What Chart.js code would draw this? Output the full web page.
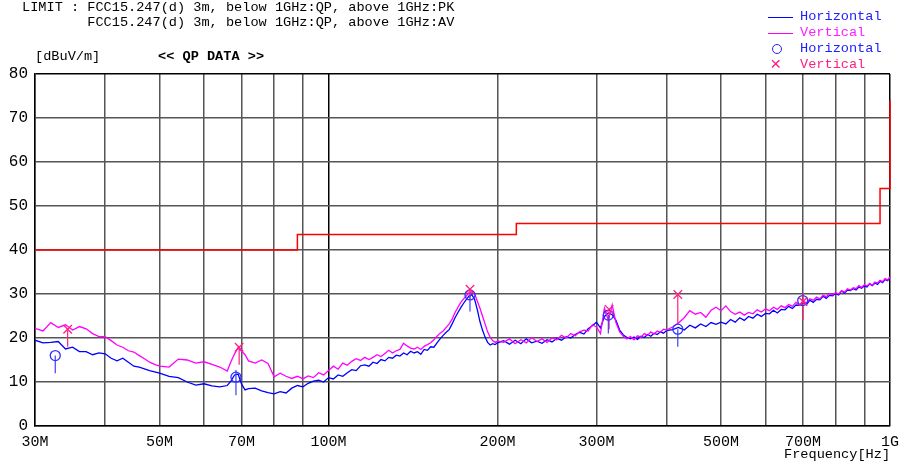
<!DOCTYPE html>
<html>
<head>
<meta charset="utf-8">
<script src="https://cdn.jsdelivr.net/npm/chart.js@4.4.1/dist/chart.umd.min.js"></script>
<style>
body { margin: 0; background: #fff; }
#wrap { position: relative; width: 900px; height: 463px; overflow: hidden; font-family: "Liberation Mono", monospace; }
#emiChart { position: absolute; left: 0; top: 0; }
.t { position: absolute; white-space: pre; font-size: 13.6px; line-height: 16px; color: #000; }
.sw { position: absolute; left: 768px; width: 25px; height: 0; }
.circ { position: absolute; left: 772px; top: 44px; width: 8px; height: 8px; border: 1.3px solid #2020ff; border-radius: 50%; }
</style>
</head>
<body>
<div id="wrap">
  <canvas id="emiChart" width="900" height="463"></canvas>
  <div class="t" style="left:22px;top:0px">LIMIT : FCC15.247(d) 3m, below 1GHz:QP, above 1GHz:PK</div>
  <div class="t" style="left:22px;top:15px">        FCC15.247(d) 3m, below 1GHz:QP, above 1GHz:AV</div>
  <div class="t" style="left:35px;top:49px">[dBuV/m]</div>
  <div class="t" style="left:158px;top:49px;font-weight:bold">&lt;&lt; QP DATA &gt;&gt;</div>
  <div class="t" style="left:784px;top:447px">Frequency[Hz]</div>

  <div class="sw" style="top:17px;border-top:1px solid #0000ff"></div>
  <div class="t" style="left:800px;top:9px;color:#2020ff">Horizontal</div>
  <div class="sw" style="top:33px;border-top:1px solid #ff00ff"></div>
  <div class="t" style="left:800px;top:25px;color:#ff20ff">Vertical</div>
  <div class="circ"></div>
  <div class="t" style="left:800px;top:41px;color:#2020ff">Horizontal</div>
  <div class="t" style="left:770px;top:56px;color:#ff2080;font-size:19px;line-height:18px">×</div>
  <div class="t" style="left:800px;top:57px;color:#ff2080">Vertical</div>
</div>
<script>
const ctx = document.getElementById('emiChart');

// frequency points [MHz]
const freqMHz = [
  30,31,32,33,34,35,36,37,38,39,40,41,42,43,44,45,46,47,48,49,50,
  52,54,56,58,60,62,64,66,
  67,68,69,70,71,72,
  74,76,78,80,82,84,86,88,90,92,94,96,98,100,
  102,104,106,108,110,112,114,116,118,120,122,124,126,128,130,132,134,136,138,140,
  142,144,146,148,150,152,154,156,158,160,162,164,166,168,170,172,174,176,178,180,
  182,184,186,188,190,192,194,196,198,200,
  205,210,215,220,225,230,235,240,245,250,255,260,265,270,275,280,285,290,295,300,
  305,310,315,320,325,330,335,340,345,350,355,360,365,370,375,380,385,390,395,400,
  410,420,430,440,450,460,470,480,490,500,510,520,530,540,550,560,570,580,590,600,
  610,620,630,640,650,660,670,680,690,700,710,720,730,740,750,760,770,780,790,800,
  810,820,830,840,850,860,870,880,890,900,910,920,930,940,950,960,970,980,990,1000
];

// Horizontal trace [dBuV/m]
const horizontal = [
  19.5,18.9,19.0,19.2,17.5,17.9,16.9,16.9,16.2,16.6,16.4,15.4,14.8,15.4,14.5,13.6,13.4,13.0,12.6,12.3,12.0,
  11.3,11.0,10.0,9.3,9.6,9.1,8.9,9.2,
  10.2,11.6,11.8,9.5,8.2,8.5,
  8.6,8.0,7.6,7.3,7.8,7.5,8.6,9.2,8.9,9.7,10.2,10.4,10.0,11.0,
  10.7,11.6,11.3,12.1,12.8,12.6,13.7,13.9,13.6,14.5,14.2,15.1,14.8,15.6,15.4,16.1,15.9,16.6,16.2,17.0,
  16.6,16.9,16.3,17.4,17.2,18.0,17.9,18.9,19.8,20.6,21.3,21.9,23.2,24.6,25.8,26.9,27.9,28.8,29.6,29.8,
  28.8,26.5,23.8,21.8,20.2,19.0,18.4,18.7,18.5,18.9,
  19.4,18.6,19.5,18.7,19.8,18.9,19.3,18.8,19.6,19.1,19.9,19.5,20.3,20.0,20.8,21.3,20.9,22.1,22.8,23.6,
  22.3,24.9,25.7,25.3,24.0,21.8,20.7,20.1,19.8,20.2,19.7,20.4,20.1,20.8,20.4,21.1,20.8,21.4,21.1,21.7,
  21.9,22.4,21.8,22.9,22.3,23.2,22.6,23.5,23.1,23.6,23.2,24.2,23.6,24.6,24.0,24.9,24.5,25.4,24.9,25.6,
  25.5,26.3,25.7,26.5,26.4,27.2,26.7,27.5,27.4,28.0,27.6,28.6,28.1,28.8,28.7,29.5,29.0,29.7,29.6,30.1,
  29.8,30.7,30.2,30.9,30.8,31.2,30.9,31.6,31.3,31.8,31.6,32.3,31.9,32.5,32.2,32.9,32.6,33.3,33.0,33.6
];

// Vertical trace [dBuV/m]
const vertical = [
  22.2,21.6,23.5,22.4,23.0,21.8,22.6,22.1,21.0,20.3,20.3,19.4,18.4,17.9,17.1,16.8,16.0,15.3,14.5,14.0,13.6,
  13.4,15.2,15.0,14.3,14.6,14.0,13.4,12.5,
  14.6,16.4,17.8,17.0,16.2,14.8,
  14.3,15.0,14.2,11.2,12.0,11.3,10.8,11.3,10.7,11.4,11.0,12.1,11.6,12.6,
  13.6,12.9,14.3,13.8,14.7,15.3,14.9,15.6,15.1,15.6,16.2,15.8,16.5,17.2,16.6,17.1,17.4,18.8,18.2,17.7,
  17.5,17.9,17.4,18.1,18.5,18.9,19.6,20.4,21.1,21.6,22.4,23.2,24.3,25.8,27.0,28.1,28.9,29.6,30.3,30.5,
  30.1,28.4,26.8,25.0,23.2,21.4,20.2,19.4,19.0,19.3,
  19.0,19.8,18.7,19.6,18.9,20.1,19.2,19.8,19.0,20.0,19.6,20.6,20.0,21.0,20.5,21.4,21.8,21.6,23.0,22.5,
  21.0,26.8,24.0,27.5,23.5,21.4,20.4,19.8,20.3,19.6,20.5,20.2,21.0,20.6,21.4,20.9,21.6,21.3,22.0,21.8,
  22.5,23.4,24.6,26.2,25.4,25.8,24.7,26.3,27.0,26.2,27.3,26.0,25.4,25.9,25.2,25.8,25.5,26.4,25.9,26.6,
  26.2,27.0,26.5,27.3,26.9,27.6,27.2,28.1,27.5,28.4,28.0,28.9,28.6,29.3,28.9,29.7,29.4,30.1,29.8,30.3,
  30.0,30.8,30.4,31.2,30.9,31.4,31.2,31.9,31.5,32.1,31.8,32.4,32.0,32.7,32.5,33.1,32.8,33.5,33.2,33.9
];

// QP measured points
const hPeakFreq = [32.6, 68.4, 178.6, 315, 418.8, 699];
const hPeakLevel = [16.0, 11.1, 29.8, 25.2, 22.0, 28.5];
const hStemLow = [12.0, 7.0, 26.0, 21.0, 18.0, 28.5];
const hStemHigh = [16.0, 12.7, 29.8, 25.2, 22.0, 28.5];

const vPeakFreq = [34.3, 69.3, 178.6, 316, 418.8, 700];
const vPeakLevel = [22.0, 17.9, 31.1, 26.5, 29.9, 28.3];
const vStemLow = [18.0, 13.9, 29.0, 22.0, 23.3, 24.1];
const vStemHigh = [22.0, 17.9, 31.1, 26.5, 29.9, 30.2];

// limit line
const limitFreq = [30, 88, 88, 216, 216, 960, 960, 1000, 1000];
const limitLevel = [40, 40, 43.5, 43.5, 46, 46, 54, 54, 74];

// axis ticks
const xGridValues = [30,40,50,60,70,80,90,100,200,300,400,500,600,700,800,900,1000];
const xTickLabels = ['30M','','50M','','70M','','','100M','200M','300M','','500M','','700M','','','1G'];

function pts(xs, ys) {
  return xs.map((x, i) => ({x: x, y: ys[i]}));
}
function stems(xs, lo, hi) {
  let out = [];
  for (let i = 0; i < xs.length; i++) {
    out.push({x: xs[i], y: lo[i]}, {x: xs[i], y: hi[i]}, {x: xs[i], y: null});
  }
  return out;
}

new Chart(ctx, {
  type: 'line',
  data: {
    datasets: [
      { label: 'Horizontal', data: pts(freqMHz, horizontal), borderColor: '#0000ff', borderWidth: 1.3, pointRadius: 0, order: 5 },
      { label: 'Vertical', data: pts(freqMHz, vertical), borderColor: '#ff00ff', borderWidth: 1.3, pointRadius: 0, order: 4 },
      { label: 'Limit', data: pts(limitFreq, limitLevel), borderColor: '#ff0000', borderWidth: 1.5, pointRadius: 0, order: 3, clip: 4 },
      { label: 'H stem', data: stems(hPeakFreq, hStemLow, hStemHigh), borderColor: '#4040ff', borderWidth: 1.2, pointRadius: 0, spanGaps: false, order: 2 },
      { label: 'V stem', data: stems(vPeakFreq, vStemLow, vStemHigh), borderColor: '#ff2080', borderWidth: 1.2, pointRadius: 0, spanGaps: false, order: 2 },
      { label: 'Horizontal QP', data: pts(hPeakFreq, hPeakLevel), showLine: false, pointStyle: 'circle', pointRadius: 5,
        pointBorderColor: '#3030ff', pointBackgroundColor: 'rgba(0,0,0,0)', pointBorderWidth: 1.3, order: 1 },
      { label: 'Vertical QP', data: pts(vPeakFreq, vPeakLevel), showLine: false, pointStyle: 'crossRot', pointRadius: 6,
        pointBorderColor: '#ff2080', pointBorderWidth: 1.3, order: 0 }
    ]
  },
  options: {
    responsive: false,
    animation: false,
    devicePixelRatio: 1,
    layout: { padding: { top: 74, right: 10, left: 0, bottom: 0 }, autoPadding: false },
    plugins: { legend: { display: false }, tooltip: { enabled: false } },
    scales: {
      x: {
        type: 'logarithmic',
        min: 30,
        max: 1000,
        afterBuildTicks: (axis) => { axis.ticks = xGridValues.map(v => ({ value: v })); },
        afterFit: (scale) => { scale.height = 37; scale.paddingLeft = 0; scale.paddingRight = 0; },
        ticks: {
          autoSkip: false, maxRotation: 0, padding: 7, color: '#000',
          font: { family: 'Liberation Mono', size: 15 },
          callback: (value) => { const i = xGridValues.indexOf(value); return i >= 0 ? xTickLabels[i] : ''; }
        },
        grid: {
          drawTicks: false,
          lineWidth: 1.5,
          color: (c) => (c.tick && (c.tick.value === 100 || c.tick.value === 1000)) ? '#000' : '#555'
        },
        border: { color: '#000', width: 1.5 }
      },
      y: {
        min: 0,
        max: 80,
        afterFit: (scale) => { scale.width = 35; scale.paddingTop = 0; scale.paddingBottom = 0; },
        ticks: { stepSize: 10, padding: 7, color: '#000', font: { family: 'Liberation Mono', size: 16 } },
        grid: { drawTicks: false, lineWidth: 1.5, color: (c) => (c.tick && c.tick.value === 80) ? '#000' : '#555' },
        border: { color: '#000', width: 1.5 }
      }
    }
  }
});
</script>
</body>
</html>
